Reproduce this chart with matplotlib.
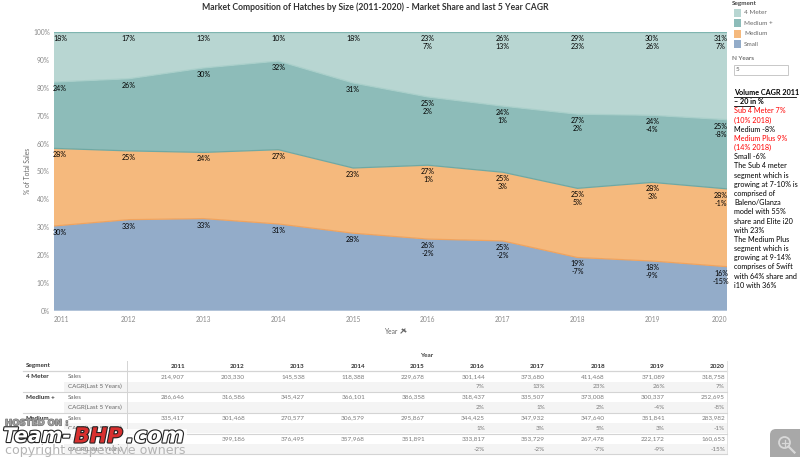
import numpy as np
import matplotlib
matplotlib.use('Agg')
import matplotlib.pyplot as plt
from matplotlib import patches
import matplotlib.patheffects as pe

plt.rcParams['font.family'] = ['Lato', 'DejaVu Sans']

years = [2011, 2012, 2013, 2014, 2015, 2016, 2017, 2018, 2019, 2020]
segments = ['4 Meter', 'Medium +', 'Medium', 'Small']

sales_4m = [214907, 203330, 145538, 118388, 229678, 301144, 373680, 411468, 371089, 318758]
sales_mp = [286646, 316586, 345427, 366101, 386358, 318437, 335507, 373008, 300337, 252695]
sales_md = [335417, 301468, 270577, 306579, 295867, 344425, 347932, 347640, 351841, 283982]
# 2011 small is hidden by the watermark, estimated from the chart
sales_sm = [366000, 399186, 376495, 357968, 351891, 333817, 353729, 267478, 222172, 160653]

cagr_4m = ['', '', '', '', '', '7%', '13%', '23%', '26%', '7%']
cagr_mp = ['', '', '', '', '', '2%', '1%', '2%', '-4%', '-8%']
cagr_md = ['', '', '', '', '', '1%', '3%', '5%', '3%', '-1%']
cagr_sm = ['', '', '', '', '', '-2%', '-2%', '-7%', '-9%', '-15%']

share_4m = [18, 17, 13, 10, 18, 23, 26, 29, 30, 31]
share_mp = [24, 26, 30, 32, 31, 25, 24, 27, 24, 25]
share_md = [28, 25, 24, 27, 23, 27, 25, 25, 28, 28]
share_sm = [30, 33, 33, 31, 28, 26, 25, 19, 18, 16]

colors = ['#b8d6d2', '#8dbcb9', '#f5b97d', '#93acc9']
edges = ['#7fb5b0', '#a9cfca', '#6fa8a3', '#f0a35e']

side_notes = [
    ('Volume CAGR 2011', 'black', True),
    ('– 20 in %', 'black', True),
    ('Sub 4 Meter 7%', 'red', False),
    ('(10% 2018)', 'red', False),
    ('Medium -8%', 'black', False),
    ('Medium Plus 9%', 'red', False),
    ('(14% 2018)', 'red', False),
    ('Small -6%', 'black', False),
    ('The Sub 4 meter', 'black', False),
    ('segment which is', 'black', False),
    ('growing at 7-10% is', 'black', False),
    ('comprised of', 'black', False),
    ('Baleno/Glanza', 'black', False),
    ('model with 55%', 'black', False),
    ('share and Elite i20', 'black', False),
    ('with 23%', 'black', False),
    ('The Medium Plus', 'black', False),
    ('segment which is', 'black', False),
    ('growing at 9-14%', 'black', False),
    ('comprises of Swift', 'black', False),
    ('with 64% share and', 'black', False),
    ('i10 with 36%', 'black', False),
]

W, H = 800, 457
fig = plt.figure(figsize=(W / 100, H / 100), dpi=100)

# everything that is not the area chart is placed in pixel coordinates
px = fig.add_axes([0, 0, 1, 1])
px.set_xlim(0, W)
px.set_ylim(H, 0)
px.axis('off')

AX_L, AX_R, AX_T, AX_B = 54, 727, 32.3, 310.7
ax = fig.add_axes([AX_L / W, 1 - AX_B / H, (AX_R - AX_L) / W, (AX_B - AX_T) / H])

sales = np.array([sales_4m, sales_mp, sales_md, sales_sm], dtype=float)
pct = sales / sales.sum(axis=0) * 100
tops = np.cumsum(pct[::-1], axis=0)[::-1]  # top of each band, 4 Meter first

ax.stackplot(years, pct[::-1], colors=colors[::-1], linewidth=0)
for i in range(4):
    ax.plot(years, tops[i], color=edges[i], lw=0.9)
ax.set_xlim(2011, 2020)
ax.set_ylim(0, 100)
ax.set_yticks(range(0, 101, 10))
ax.set_yticklabels(['%d%%' % v for v in range(0, 101, 10)])
ax.set_xticks(years)
ax.set_xticklabels(years)
ax.tick_params(length=0, labelsize=4.8, labelcolor='#8a8a8a', pad=3)
ax.tick_params(axis='x', pad=4)
labels = ax.get_xticklabels()
labels[0].set_ha('left')
labels[-1].set_ha('right')
for s in ax.spines.values():
    s.set_visible(False)

px.text(27, 171, '% of Total Sales', fontsize=4.8, color='#666666', rotation=90, ha='center', va='center')
px.text(392, 331, 'Year', fontsize=4.8, color='#666666', ha='center', va='center')
px.plot([401, 405], [333, 329], color='#666666', lw=0.8)
px.plot([402.5, 405.5], [329.5, 331.5], color='#666666', lw=1.2)

# share and CAGR labels, hanging just under the top of each band
shares = [share_4m, share_mp, share_md, share_sm]
cagrs = [cagr_4m, cagr_mp, cagr_md, cagr_sm]
for b in range(4):
    for i, yr in enumerate(years):
        x = AX_L + (AX_R - AX_L) * i / 9
        if i == 0:
            x += 6
        if i == 9:
            x -= 6
        y = AX_B - (AX_B - AX_T) * tops[b][i] / 100 + 6.5
        px.text(x, y, '%d%%' % shares[b][i], fontsize=5.1, color='black',
                ha='center', va='center', zorder=5)
        if cagrs[b][i]:
            px.text(x, y + 8, cagrs[b][i], fontsize=5.1, color='black',
                    ha='center', va='center', zorder=5)
px.set_zorder(3)

px.text(375, 7, 'Market Composition of Hatches by Size (2011-2020) - Market Share and last 5 Year CAGR',
        fontsize=6.2, fontweight='bold', color='#333333', ha='center', va='center')

# legend
px.text(732, 3.5, 'Segment', fontsize=4.6, color='#444444', fontweight='bold', va='center')
for i, seg in enumerate(segments):
    y = 13 + i * 10.4
    px.add_patch(patches.Rectangle((733.5, y - 4), 7.5, 8, fc=colors[i], ec='none'))
    px.text(744, y, seg, fontsize=4.6, color='#666666', va='center')
px.text(732, 58, 'N Years', fontsize=4.6, color='#444444', va='center')
px.add_patch(patches.Rectangle((734, 64.5), 54, 10, fc='white', ec='#c8c8c8', lw=0.7))
px.text(736, 69.5, '5', fontsize=4.6, color='#666666', va='center')

# side note
for i, (line, col, bold) in enumerate(side_notes):
    y = 92.5 + i * 9.18
    px.text(734, y, line, fontsize=5.2, color=col, va='center',
            fontweight='bold' if bold else 'normal')
    if bold:
        wid = 62 if i == 0 else 20
        px.plot([734, 734 + wid], [y + 4, y + 4], color='black', lw=0.6)

# table under the chart
TB_L, TB_R, TB_SPLIT = 23, 727, 127
col_right = [185 + 60 * i for i in range(10)]
px.text(433, 355.5, 'Year', fontsize=4.6, color='#444444', fontweight='bold', ha='right', va='center')
px.text(26, 366, 'Segment', fontsize=4.6, color='#333333', fontweight='bold', va='center')
for i, yr in enumerate(years):
    px.text(col_right[i], 366, str(yr), fontsize=4.6, color='#333333', fontweight='bold',
            ha='right', va='center')
px.plot([TB_L, TB_R], [371, 371], color='#d4d4d4', lw=0.9)
px.plot([TB_SPLIT, TB_SPLIT], [361, 454], color='#d4d4d4', lw=0.7)
px.plot([TB_R, TB_R], [361, 454], color='#e2e2e2', lw=0.7)
rows = [sales_4m, sales_mp, sales_md, sales_sm]
for s, seg in enumerate(segments):
    y0 = 376.3 + s * 20.85
    px.add_patch(patches.Rectangle((64, y0 + 5.2), TB_R - 64, 10.2, fc='#f4f4f4', ec='none', zorder=0))
    px.plot([TB_L, TB_R], [y0 + 15.6, y0 + 15.6], color='#d4d4d4', lw=0.8)
    px.text(26, y0, seg, fontsize=4.6, color='#333333', fontweight='bold', va='center')
    px.text(67.5, y0, 'Sales', fontsize=4.5, color='#666666', va='center')
    px.text(67.5, y0 + 10.4, 'CAGR(Last 5 Years)', fontsize=4.5, color='#666666', va='center')
    for i in range(10):
        px.text(col_right[i], y0, format(rows[s][i], ','), fontsize=4.6, color='#7a7a7a',
                ha='right', va='center')
        if cagrs[s][i]:
            px.text(col_right[i], y0 + 10.4, cagrs[s][i], fontsize=4.6, color='#7a7a7a',
                    ha='right', va='center')

# watermark
px.add_patch(patches.Rectangle((3, 429), 184, 15, fc='white', ec='none', alpha=0.85, zorder=6))
wm_font = ['DejaVu Sans']
px.text(5, 423, 'HOSTED ON :', fontsize=6.2, color='#a0a0a0', va='center', zorder=7,
        fontweight='bold', family=wm_font,
        path_effects=[pe.withStroke(linewidth=0.8, foreground='#707070')])
outline = [pe.withStroke(linewidth=1.6, foreground='#222222')]
px.text(3, 436.5, 'Team-', fontsize=14.5, color='white', va='center', zorder=7, style='italic',
        fontweight='bold', family=wm_font, path_effects=outline)
px.text(74, 436.5, 'BHP', fontsize=15, color='#d8302f', va='center', zorder=7, style='italic',
        fontweight='bold', family=wm_font, path_effects=outline)
px.text(126, 436.5, '.com', fontsize=15.5, color='white', va='center', zorder=7, style='italic',
        fontweight='bold', family=wm_font, path_effects=outline)
px.text(5, 450.5, 'copyright respective owners', fontsize=9.1, color='#b4b4b4', va='center', zorder=7,
        family=wm_font)

# zoom badge, bottom right corner
px.add_patch(patches.FancyBboxPatch((770, 429), 40, 40, boxstyle='round,pad=0,rounding_size=6',
                                    fc='#a8a8a8', ec='none', zorder=6, clip_on=True))
px.add_patch(patches.Circle((784.5, 442.5), 5.5, fc='none', ec='#d8d8d8', lw=1.3, zorder=7))
px.plot([788.5, 794.5], [446.5, 452.5], color='#d8d8d8', lw=1.6, zorder=7)
px.plot([781.5, 787.5], [442.5, 442.5], color='#d8d8d8', lw=0.9, zorder=7)
px.plot([784.5, 784.5], [439.5, 445.5], color='#d8d8d8', lw=0.9, zorder=7)

fig.savefig('out.png', dpi=100)
